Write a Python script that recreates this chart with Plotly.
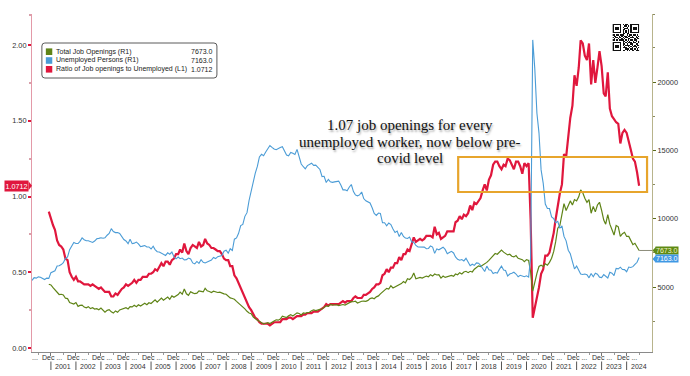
import pandas as pd
import plotly.graph_objects as go

# ---------------- data (thousands / ratio), monthly ----------------
openings_start = "2000-12-01"
unemployed_start = "2000-04-01"

job_openings = [
    5200,
    5150, 4950, 4800, 4650, 4450, 4470, 4420, 4180, 4150, 3870, 3790, 3750,
    3860, 3580, 3650, 3670, 3530, 3480, 3560, 3420, 3480, 3390, 3420, 3340,
    3460, 3280, 3160, 3290, 3340, 3180, 3090, 3250, 3150, 3320, 3370, 3380,
    3480, 3390, 3560, 3540, 3660, 3560, 3700, 3610, 3720, 3810, 3700, 3850,
    3790, 3960, 4060, 3890, 4050, 4190, 4030, 4170, 4270, 4100, 4350, 4250,
    4360, 4450, 4630, 4480, 4850, 4500, 4390, 4650, 4570, 4510, 4550, 4720,
    4680, 4640, 4900, 4720, 4670, 4600, 4690, 4620, 4600, 4620, 4540, 4500,
    4470, 4350, 4200, 4160, 4100, 3950, 3820, 3700, 3580, 3400, 3220, 3100,
    3050, 2800, 2700, 2560, 2500, 2420, 2300, 2350, 2390, 2330, 2450, 2510,
    2600, 2570, 2650, 2860, 2810, 2770, 2900, 2980, 2880, 2980, 3110, 3060,
    2950, 3100, 3070, 3130, 3150, 3260, 3330, 3280, 3350, 3360, 3390, 3520,
    3620, 3580, 3730, 3680, 3700, 3700, 3640, 3690, 3720, 3680, 3770, 3820,
    3930, 3920, 3960, 3830, 3900, 3960, 3970, 3950, 4020, 4150, 4200, 4140,
    4280, 4350, 4500, 4650, 4750, 4900, 4850, 5100, 4930, 5020, 5050, 5180,
    5250, 5400, 5300, 5600, 5550, 5700, 6020, 5600, 5650, 5700, 5650, 5720,
    5800, 5750, 5900, 5800, 5950, 5880, 5900, 5650, 5800, 5700, 5750, 5800,
    5850, 5780, 5950, 5900, 6050, 5950, 6100, 6150, 6050, 6150, 6100, 6300,
    6400, 6550, 6500, 6600, 6650, 6800, 6950, 7100, 7250, 7450, 7400, 7550,
    7700, 7550, 7450, 7350, 7400, 7250, 7200, 7300, 7100, 7050, 7000, 6850,
    7000, 6950, 6100, 4700, 5400, 6000, 6500, 6600, 6500, 6700, 6600, 6800,
    7100, 7600, 8300, 9300, 9500, 10200, 11100, 10600, 10900, 11300, 11000, 11400,
    11300, 11600, 12100, 11900, 11500, 11200, 11400, 10400, 10900, 10500, 11000, 11200,
    10600, 9900, 9600, 10300, 9600, 9200, 8800, 9500, 9400, 8700, 8900, 9000,
    8700, 8700, 8400, 8100, 8200, 7900, 7673,
]

unemployed = [
    5480, 5680, 5650, 5740, 5720, 5600, 5550, 5650, 5630,
    6050, 6140, 6190, 6540, 6550, 6640, 6780, 7090, 7200, 7730, 8040, 8260,
    8180, 8180, 8340, 8590, 8460, 8380, 8380, 8330, 8260, 8360, 8530, 8560,
    8600, 8570, 8600, 8790, 8920, 9270, 9060, 8980, 8980, 8920, 8710, 8470,
    8370, 8170, 8490, 8170, 8210, 8290, 8160, 7950, 7990, 8030, 7930, 7930,
    7780, 7990, 7740, 7580, 7560, 7470, 7400, 7310, 7500, 7400, 7560, 7210,
    7060, 7190, 7070, 7120, 6980, 7000, 7120, 7050, 6760, 6690, 6870, 6730,
    7000, 6810, 6760, 6830, 6850, 6970, 7160, 7080, 7220, 7240, 7300, 7620,
    7690, 7480, 7800, 7670, 8500, 8590, 8930, 9490, 9580, 10170, 10440, 11330,
    12050, 12900, 13310, 13820, 14520, 14710, 14610, 14880, 15140, 15350, 15220, 15100,
    15050, 15160, 15200, 15260, 14930, 14650, 14600, 14850, 14780, 14700, 15070, 14500,
    14000, 13800, 13650, 13880, 13960, 14060, 13900, 13920, 13760, 13600, 13080, 13100,
    12650, 12880, 12700, 12660, 12690, 12720, 12750, 12470, 12110, 12120, 12040, 12300,
    12500, 11980, 11740, 11670, 11740, 11950, 11470, 11310, 11230, 11150, 10800, 10380,
    10240, 10410, 10380, 9700, 9700, 9480, 9680, 9570, 9240, 8990, 9090, 8690,
    8980, 8700, 8580, 8550, 8660, 8300, 8280, 8040, 7930, 7910, 7940, 7920,
    7800, 7820, 8000, 7920, 7460, 7790, 7720, 7810, 7910, 7750, 7430, 7520,
    7610, 7490, 7200, 7030, 6960, 7010, 6910, 7100, 6760, 6560, 6670, 6580,
    6760, 6740, 6590, 6340, 6130, 6530, 6260, 6230, 5990, 6060, 6020, 6290,
    6530, 6240, 6210, 5800, 5950, 6010, 6080, 5950, 5750, 5860, 5780, 5750,
    5820, 5720, 7150, 23080, 20960, 17710, 16280, 13570, 12580, 11070, 10740, 10740,
    10130, 10000, 9710, 9810, 9300, 9480, 8700, 8380, 7690, 7430, 6860, 6320,
    6530, 6270, 5950, 5920, 5950, 5900, 5670, 5990, 5750, 6010, 5940, 5720,
    5690, 5910, 5800, 5660, 6080, 6010, 5840, 6360, 6330, 6450, 6280, 6270,
    6120, 6460, 6430, 6490, 6650, 6810, 7163,
]

ratio = [
    0.90,
    0.85, 0.81, 0.78, 0.71, 0.68, 0.67, 0.65, 0.59, 0.58, 0.50, 0.47, 0.45,
    0.47, 0.44, 0.44, 0.43, 0.42, 0.42, 0.42, 0.41, 0.42, 0.41, 0.40, 0.39,
    0.40, 0.38, 0.37, 0.37, 0.37, 0.34, 0.34, 0.36, 0.35, 0.37, 0.39, 0.40,
    0.42, 0.41, 0.42, 0.43, 0.45, 0.43, 0.45, 0.45, 0.47, 0.47, 0.47, 0.49,
    0.49, 0.50, 0.52, 0.51, 0.54, 0.56, 0.54, 0.57, 0.57, 0.55, 0.58, 0.59,
    0.62, 0.62, 0.65, 0.63, 0.69, 0.64, 0.62, 0.66, 0.68, 0.67, 0.66, 0.70,
    0.67, 0.68, 0.72, 0.69, 0.68, 0.66, 0.66, 0.65, 0.64, 0.64, 0.62, 0.59,
    0.58, 0.58, 0.54, 0.54, 0.48, 0.46, 0.43, 0.39, 0.37, 0.33, 0.31, 0.27,
    0.25, 0.22, 0.20, 0.19, 0.17, 0.16, 0.16, 0.16, 0.16, 0.15, 0.16, 0.17,
    0.17, 0.17, 0.17, 0.19, 0.19, 0.19, 0.20, 0.20, 0.19, 0.20, 0.21, 0.21,
    0.21, 0.22, 0.22, 0.23, 0.23, 0.23, 0.24, 0.24, 0.24, 0.25, 0.26, 0.27,
    0.29, 0.28, 0.29, 0.29, 0.29, 0.29, 0.29, 0.30, 0.31, 0.30, 0.31, 0.31,
    0.31, 0.33, 0.34, 0.33, 0.33, 0.33, 0.35, 0.35, 0.36, 0.37, 0.39, 0.40,
    0.42, 0.42, 0.43, 0.48, 0.49, 0.52, 0.50, 0.53, 0.53, 0.56, 0.56, 0.60,
    0.58, 0.62, 0.62, 0.65, 0.64, 0.69, 0.73, 0.70, 0.71, 0.72, 0.71, 0.72,
    0.74, 0.74, 0.74, 0.73, 0.80, 0.75, 0.76, 0.72, 0.73, 0.74, 0.77, 0.77,
    0.77, 0.77, 0.83, 0.84, 0.87, 0.85, 0.88, 0.87, 0.89, 0.94, 0.91, 0.96,
    0.95, 0.97, 0.99, 1.04, 1.08, 1.04, 1.11, 1.14, 1.21, 1.23, 1.23, 1.20,
    1.18, 1.21, 1.20, 1.25, 1.24, 1.21, 1.18, 1.23, 1.23, 1.20, 1.15, 1.22,
    1.20, 1.22, 0.85, 0.20, 0.26, 0.34, 0.40, 0.49, 0.52, 0.61, 0.61, 0.63,
    0.70, 0.76, 0.85, 0.95, 1.02, 1.08, 1.28, 1.26, 1.42, 1.52, 1.60, 1.80,
    1.73, 1.85, 2.03, 2.01, 1.93, 1.90, 2.01, 1.74, 1.90, 1.75, 1.85, 1.96,
    1.86, 1.68, 1.66, 1.82, 1.58, 1.53, 1.51, 1.49, 1.48, 1.35, 1.42, 1.44,
    1.42, 1.35, 1.31, 1.25, 1.23, 1.16, 1.0712,
]

series_names = ["Total Job Openings (R1)", "Unemployed Persons (R1)",
                "Ratio of Job openings to Unemployed (L1)"]
left_ticks = [0.0, 0.5, 1.0, 1.5, 2.0]
right_ticks = [5000, 10000, 15000, 20000]
years = list(range(2001, 2025))
note_lines = ["1.07 job openings for every",
              "unemployed worker, now below pre-",
              "covid level"]

qr_pattern = [
    "111111101011001111111",
    "100000100110101000001",
    "101110101001001011101",
    "101110100111001011101",
    "101110101100101011101",
    "100000101010101000001",
    "111111101010101111111",
    "000000001101100000000",
    "110110111001011011010",
    "011001010110110100101",
    "101101101011001110110",
    "010010010100110001011",
    "110101111010101101100",
    "000000001101010010101",
    "111111101010111011001",
    "100000101101001100110",
    "101110101011110101011",
    "101110100100101011100",
    "101110101110010100101",
    "100000100011101101010",
    "111111101101010110111",
]

# ---------------- styling ----------------
C_GREEN = "#5f8417"
C_BLUE = "#4b9cd6"
C_RED = "#e0173d"
FONT = "Liberation Sans"

W, H = 690, 376
ML, MR, MT, MB = 30, 33, 14, 24
PW, PH = W - ML - MR, H - MT - MB
Y1 = [-0.0264, 2.2046]
Y2 = [244, 24976]
XR = ["2000-03-31", "2025-01-05"]


def px(x):
    return (x - ML) / PW


def py(y):
    return (H - MB - y) / PH


def y1_paper(v):
    return (v - Y1[0]) / (Y1[1] - Y1[0])


def y2_paper(v):
    return (v - Y2[0]) / (Y2[1] - Y2[0])


dates_open = pd.date_range(openings_start, periods=len(job_openings), freq="MS")
dates_unemp = pd.date_range(unemployed_start, periods=len(unemployed), freq="MS")

fig = go.Figure()
fig.add_trace(go.Scatter(x=dates_open, y=job_openings, yaxis="y2", mode="lines",
                         line=dict(color=C_GREEN, width=1.2), name=series_names[0]))
fig.add_trace(go.Scatter(x=dates_unemp, y=unemployed, yaxis="y2", mode="lines",
                         line=dict(color=C_BLUE, width=1.1), name=series_names[1]))
fig.add_trace(go.Scatter(x=dates_open, y=ratio, yaxis="y", mode="lines",
                         line=dict(color=C_RED, width=2.2), name=series_names[2]))

# QR-like block (decoration, top right)
qr_z = [[int(c) for c in row] for row in reversed(qr_pattern)]
fig.add_trace(go.Heatmap(z=qr_z, xaxis="x3", yaxis="y3", showscale=False,
                         colorscale=[[0, "white"], [1, "#111111"]], zmin=0, zmax=1,
                         hoverinfo="skip"))

shapes = []
annotations = []

# last-value guide line for job openings
shapes.append(dict(type="line", xref="x", yref="y2", x0=dates_open[-1], x1=XR[1],
                   y0=job_openings[-1], y1=job_openings[-1],
                   line=dict(color="#8c8c7a", width=1)))

# orange highlight box
shapes.append(dict(type="rect", xref="paper", yref="paper",
                   x0=px(461), x1=px(652), y0=py(192), y1=py(157),
                   line=dict(color="#e7a52c", width=2.2)))

# legend box (rounded)
lx0, lx1, ly0, ly1, r = 40, 217, 43, 78, 3


def P(x, y):
    return f"{px(x):.5f},{py(y):.5f}"


path = (f"M {P(lx0 + r, ly0)} L {P(lx1 - r, ly0)} Q {P(lx1, ly0)} {P(lx1, ly0 + r)} "
        f"L {P(lx1, ly1 - r)} Q {P(lx1, ly1)} {P(lx1 - r, ly1)} "
        f"L {P(lx0 + r, ly1)} Q {P(lx0, ly1)} {P(lx0, ly1 - r)} "
        f"L {P(lx0, ly0 + r)} Q {P(lx0, ly0)} {P(lx0 + r, ly0)} Z")
shapes.append(dict(type="path", xref="paper", yref="paper", path=path,
                   fillcolor="white", line=dict(color="#5a5a5a", width=1)))
legend_vals = [f"{job_openings[-1]:.1f}", f"{unemployed[-1]:.1f}", f"{ratio[-1]:.4f}"]
for i, (nm, col, val) in enumerate(zip(series_names, [C_GREEN, C_BLUE, C_RED], legend_vals)):
    yc = 51.7 + i * 8.8
    shapes.append(dict(type="rect", xref="paper", yref="paper",
                       x0=px(44), x1=px(50.5), y0=py(yc + 3.3), y1=py(yc - 3.3),
                       fillcolor=col, line=dict(width=0)))
    annotations.append(dict(xref="paper", yref="paper", x=px(52.5), y=py(yc), text=nm,
                            showarrow=False, xanchor="left", yanchor="middle",
                            font=dict(family=FONT, size=7.0, color="#222")))
    annotations.append(dict(xref="paper", yref="paper", x=px(215.5), y=py(yc), text=val,
                            showarrow=False, xanchor="right", yanchor="middle",
                            font=dict(family=FONT, size=7.0, color="#222")))

# comment text
for i, line in enumerate(note_lines):
    annotations.append(dict(xref="paper", yref="paper", x=px(412), y=py(125 + i * 16.5),
                            text=line, showarrow=False, xanchor="center", yanchor="middle",
                            font=dict(family="Liberation Serif", size=15, color="#111",
                                      shadow="1px 2px 2px rgba(0,0,0,0.35)")))

# value tags
yl = y1_paper(ratio[-1])
annotations.append(dict(xref="paper", yref="paper", x=px(27), y=yl, text=f"{ratio[-1]:.4f}",
                        showarrow=False, xanchor="right", yanchor="middle", bgcolor=C_RED,
                        borderpad=0.5, font=dict(family=FONT, size=7.2, color="white")))
shapes.append(dict(type="path", xref="paper", yref="paper",
                   path=f"M {px(26.5):.5f},{yl + 4.5 / PH:.5f} L {px(30):.5f},{yl:.5f} "
                        f"L {px(26.5):.5f},{yl - 4.5 / PH:.5f} Z",
                   fillcolor=C_RED, line=dict(width=0)))
# right-side tags: green on its value, blue pushed just below so they stack
tag_specs = [(job_openings[-1], "#5e8a14", "#f4f4c8", 0.0),
             (unemployed[-1], "#3f98e4", "white", -1.5)]
for val, col, tc, shift in tag_specs:
    yv = y2_paper(val) + shift / PH
    annotations.append(dict(xref="paper", yref="paper", x=px(660.5), y=yv, text=f"{val:.1f}",
                            showarrow=False, xanchor="left", yanchor="middle", bgcolor=col,
                            borderpad=0, font=dict(family=FONT, size=7, color=tc)))
    shapes.append(dict(type="path", xref="paper", yref="paper",
                       path=f"M {px(661):.5f},{yv + 3.8 / PH:.5f} L {px(657.5):.5f},{yv:.5f} "
                            f"L {px(661):.5f},{yv - 3.8 / PH:.5f} Z",
                       fillcolor=col, line=dict(width=0)))

# x-axis two-row labels
annotations.append(dict(xref="x", yref="paper", x="2000-05-20", y=py(357.5), text="...",
                        showarrow=False, xanchor="center", yanchor="middle",
                        font=dict(family=FONT, size=7, color="#333")))
for yr in years:
    annotations.append(dict(xref="x", yref="paper", x=f"{yr}-01-10", y=py(357.5), text="Dec ...",
                            showarrow=False, xanchor="center", yanchor="middle",
                            font=dict(family=FONT, size=7, color="#333")))
    annotations.append(dict(xref="x", yref="paper", x=f"{yr}-07-01", y=py(366), text=str(yr),
                            showarrow=False, xanchor="center", yanchor="middle",
                            font=dict(family=FONT, size=7, color="#333")))
    shapes.append(dict(type="line", xref="x", yref="paper", x0=f"{yr}-01-01", x1=f"{yr}-01-01",
                       y0=py(361.5), y1=py(370), line=dict(color="#555", width=1)))

fig.update_layout(
    width=W, height=H,
    margin=dict(l=ML, r=MR, t=MT, b=MB, pad=0),
    paper_bgcolor="white", plot_bgcolor="white",
    showlegend=False,
    xaxis=dict(type="date", range=XR, showgrid=False, zeroline=False,
               showline=True, linecolor="#8a8a8a", linewidth=1,
               ticks="outside", ticklen=3, tickcolor="#777",
               tickmode="array", tickvals=[f"{yr}-01-01" for yr in years],
               showticklabels=False,
               minor=dict(ticks="outside", ticklen=2, tickcolor="#999",
                          tickmode="array", tickvals=[f"{yr}-07-01" for yr in [2000] + years])),
    yaxis=dict(range=Y1, showgrid=False, zeroline=False,
               showline=True, linecolor="#e39aa8", linewidth=1,
               tickmode="array", tickvals=left_ticks,
               ticktext=[f"{v:.2f}" for v in left_ticks],
               ticks="outside", ticklen=3, tickwidth=1.5, tickcolor=C_RED,
               tickfont=dict(family=FONT, size=7.4, color="#333"),
               minor=dict(ticks="outside", ticklen=2, tickcolor="#d8a0aa",
                          tickmode="array", tickvals=[0.25, 0.75, 1.25, 1.75, 2.2])),
    yaxis2=dict(range=Y2, overlaying="y", side="right", showgrid=False, zeroline=False,
                showline=True, linecolor="#b8b48c", linewidth=1,
                tickmode="array", tickvals=right_ticks,
                ticktext=[str(v) for v in right_ticks],
                ticks="outside", ticklen=3, tickwidth=1, tickcolor="#5a6a1a",
                tickfont=dict(family=FONT, size=7.4, color="#333"),
                minor=dict(ticks="outside", ticklen=2, tickcolor="#8a8a60",
                           tickmode="array", tickvals=[2500, 7500, 12500, 17500, 22500, 24960])),
    xaxis3=dict(domain=[px(617), px(644)], anchor="y3", visible=False, fixedrange=True),
    yaxis3=dict(domain=[py(51), py(24)], anchor="x3", visible=False, fixedrange=True),
    shapes=shapes,
    annotations=annotations,
)

fig.write_html("out.html", config={"displayModeBar": False},
               post_script="document.body.style.margin='0px';document.body.style.overflow='hidden';")
